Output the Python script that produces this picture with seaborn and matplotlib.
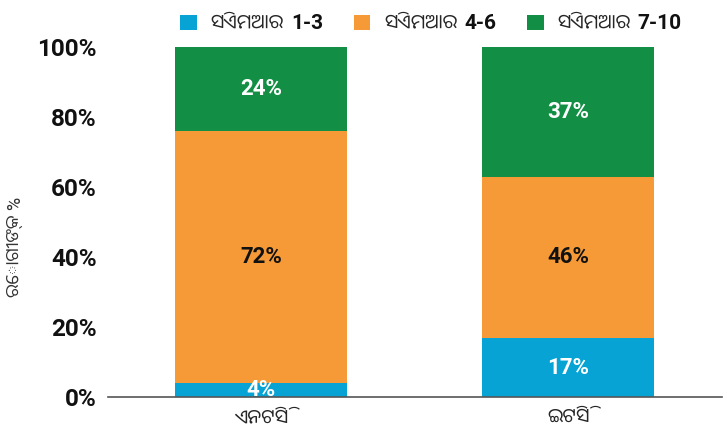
import matplotlib
matplotlib.use("Agg")
import matplotlib.pyplot as plt
import seaborn as sns
import numpy as np

categories = ["ଏନଟିସି", "ଇଟିସି"]
series_word = "ସିଏମଆର"
series_ranges = ["1-3", "4-6", "7-10"]
cmr_1_3 = [4, 17]
cmr_4_6 = [72, 46]
cmr_7_10 = [24, 37]
colors = ["#06a3d4", "#f59a36", "#128f44"]
label_colors = ["white", "#111111", "white"]
y_ticks = [0, 20, 40, 60, 80, 100]
y_label = "ରୋଗୀଙ୍କ %"

sns.set_theme(style="white")
plt.rcParams["font.family"] = ["Roboto", "Noto Sans Oriya UI", "Noto Sans Oriya", "DejaVu Sans"]

fig, ax = plt.subplots(figsize=(7.27, 4.33), dpi=100)
fig.subplots_adjust(left=0.148, right=0.993, top=0.892, bottom=0.082)

bottom = np.zeros(len(categories))
for rng, vals, c, tc in zip(series_ranges, [cmr_1_3, cmr_4_6, cmr_7_10], colors, label_colors):
    sns.barplot(x=categories, y=vals, bottom=bottom, color=c, width=0.56,
                label=f"{series_word} {rng}", ax=ax, saturation=1, edgecolor="none")
    for i, v in enumerate(vals):
        ax.text(i, bottom[i] + v / 2, f"{v}%", ha="center", va="center",
                color=tc, fontsize=16, fontweight="bold")
    bottom = bottom + np.array(vals)

ax.set_xlim(-0.5, 1.5)
ax.set_ylim(0, 100)
ax.set_yticks(y_ticks)
ax.set_yticklabels([f"{t}%" for t in y_ticks], fontsize=17.5, fontweight="bold", color="#111111")
ax.set_ylabel(y_label, fontsize=13, color="#333333")
ax.yaxis.set_label_coords(-0.135, 0.43)
ax.set_xlabel("")
ax.tick_params(axis="y", length=0, pad=8)
ax.tick_params(axis="x", length=0, labelsize=14, pad=9)
ax.set_xticks([-0.5, 0.5, 1.5], minor=True)
ax.tick_params(axis="x", which="minor", length=6, color="#444444", width=1)

sns.despine(ax=ax, left=True)
ax.spines["bottom"].set_color("#555555")
ax.spines["bottom"].set_linewidth(1.2)

# legend: Odia word regular, range numbers bold next to it
handles, _ = ax.get_legend_handles_labels()
leg = ax.legend(handles, [series_word] * 3, loc="lower center", bbox_to_anchor=(0.485, 1.0),
                ncol=3, frameon=False, fontsize=14, handlelength=0.85, handleheight=0.85,
                columnspacing=3.6, handletextpad=0.7, borderaxespad=0.3)
fig.canvas.draw()
for txt, rng in zip(leg.get_texts(), series_ranges):
    fig.text(0, 0, rng, transform=None, fontsize=15, fontweight="bold", color="#111111",
             ha="left", va="baseline")
    bb = txt.get_window_extent()
    fig.texts[-1].set_position((bb.x1 + 7, bb.y0 + 0.24 * bb.height))

plt.savefig("out.png", dpi=100)
plt.close()
